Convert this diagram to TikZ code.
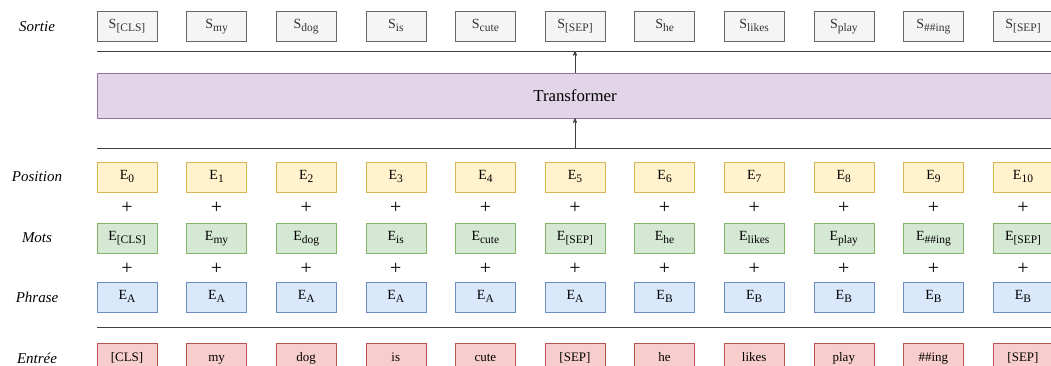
\documentclass[tikz,border=0pt]{standalone}
\usepackage{fontspec}
\setmainfont{Liberation Serif}
\usetikzlibrary{arrows,positioning}
\definecolor{grisfond}{HTML}{F5F5F5}
\definecolor{grisbord}{HTML}{666666}
\definecolor{jaunefond}{HTML}{FFF2CC}
\definecolor{jaunebord}{HTML}{D6B656}
\definecolor{vertfond}{HTML}{D5E8D4}
\definecolor{vertbord}{HTML}{82B366}
\definecolor{bleufond}{HTML}{DAE8FC}
\definecolor{bleubord}{HTML}{6C8EBF}
\definecolor{rougefond}{HTML}{F8CECC}
\definecolor{rougebord}{HTML}{B85450}
\definecolor{violetfond}{HTML}{E1D5E7}
\definecolor{violetbord}{HTML}{9673A6}
\newcommand\indice[1]{\raisebox{-2.6pt}{\fontsize{11.5}{12}\selectfont #1}}
\tikzset{
    >=stealth',
    tok/.style={draw,rectangle,minimum width=60pt,minimum height=30pt,inner sep=0pt,
        text height=9pt,text depth=3pt,font=\fontsize{13}{15}\selectfont},
    emb/.style={tok,font=\fontsize{14}{15}\selectfont,text height=9pt,text depth=4pt},
    sortie/.style={emb,fill=grisfond,draw=grisbord,text=black!80},
    posbox/.style={emb,fill=jaunefond,draw=jaunebord},
    motbox/.style={emb,fill=vertfond,draw=vertbord},
    phrbox/.style={emb,fill=bleufond,draw=bleubord},
    entbox/.style={tok,fill=rougefond,draw=rougebord},
    rowlabel/.style={font=\fontsize{15}{17}\selectfont\itshape},
    plus/.style={font=\fontsize{20}{20}\selectfont,inner sep=0pt},
    sep/.style={draw=black!75,line width=0.9pt},
}

\begin{document}
\begin{tikzpicture}[x=1pt,y=-1pt]
    \useasboundingbox (0,0) rectangle (1051,366);

    % row labels
    \node[rowlabel] (lsortie) at (37,26.5) {Sortie};
    \node[rowlabel] (lpos) at (37,177) {Position};
    \node[rowlabel] (lmots) at (37,238) {Mots};
    \node[rowlabel] (lphr) at (37,297) {Phrase};
    \node[rowlabel] (lent) at (37,358) {Entrée};

    % tokens
    \foreach \w [count=\i from 0] in {{[CLS]},my,dog,is,cute,{[SEP]},he,likes,play,\#\#ing,{[SEP]}} {
        \pgfmathsetmacro\x{127+89.6*\i}
        \node[sortie] (s\i) at (\x,26.5) {S\indice{\w}};
        \node[posbox] (pos\i) at (\x,177) {E\indice{\i}};
        \node[plus] (p\i) at (\x,208) {+};
        \node[motbox] (mot\i) at (\x,238) {E\indice{\w}};
        \node[plus] (q\i) at (\x,269) {+};
        \node[phrbox] (phr\i) at (\x,297) {E\indice{\ifnum\i<6 A\else B\fi}};
        \node[entbox] (ent\i) at (\x,358) {\w};
    }

    % transformer
    \node[draw=violetbord,fill=violetfond,minimum width=956pt,minimum height=45pt,
        font=\fontsize{16.8}{19}\selectfont] (transf) at (575,95.5) {Transformer};

    \draw[sep] (97,51) -- (1053,51);
    \draw[sep] (97,148) -- (1053,148);
    \draw[sep] (97,327) -- (1053,327);

    \coordinate (haut) at (575,51);
    \coordinate (bas) at (575,148);
    \draw[->,black!75,line width=0.7pt] (bas) -- (transf.south);
    \draw[->,black!75,line width=0.7pt] (transf.north) -- (haut);
\end{tikzpicture}
\end{document}
